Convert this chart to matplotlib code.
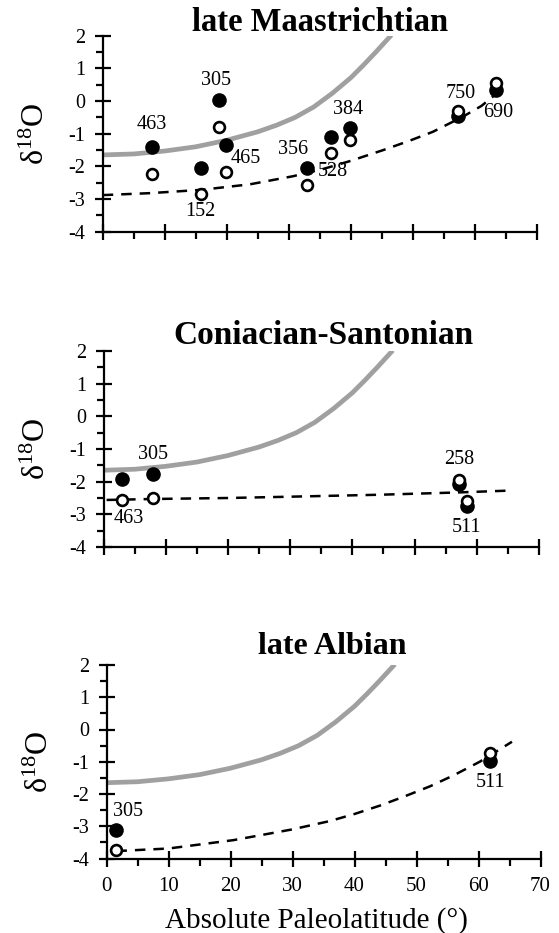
import matplotlib
matplotlib.use("Agg")
import matplotlib.pyplot as plt
from matplotlib.ticker import MultipleLocator

plt.rcParams['font.family'] = ['Liberation Serif', 'DejaVu Serif']
plt.rcParams['mathtext.fontset'] = 'custom'
plt.rcParams['mathtext.rm'] = 'Liberation Serif'
plt.rcParams['mathtext.it'] = 'Liberation Serif:italic'
plt.rcParams['axes.unicode_minus'] = False

# ---------------- data ----------------
titles = ["late Maastrichtian", "Coniacian-Santonian", "late Albian"]

# late Maastrichtian
maas_sites = ['463', '305', '465', '152', '356', '528', '384', '750', '690']
maas_lat = [7.9, 18.7, 19.9, 15.8, 32.9, 36.8, 39.8, 57.3, 63.4]
maas_filled = [-1.42, 0.03, -1.35, -2.04, -2.04, -1.09, -0.82, -0.46, 0.34]
maas_open = [-2.24, -0.79, -2.16, -2.85, -2.57, -1.60, -1.19, -0.30, 0.54]
maas_fit_lat = [0, 7.6, 15.8, 23.7, 30.7, 35.5, 39.8, 45.2, 49.5, 53.2, 58.0, 61.0, 63.4, 64.5]
maas_fit_d = [-2.88, -2.82, -2.72, -2.55, -2.30, -2.08, -1.84, -1.50, -1.21, -0.94, -0.48, -0.15, 0.22, 0.42]

# Coniacian-Santonian
coni_sites = ['463', '305', '258', '511']
coni_lat = [2.9, 8.0, 57.2, 58.4]
coni_filled = [-1.92, -1.76, -2.06, -2.73]
coni_open = [-2.55, -2.50, -1.94, -2.60]
coni_fit_lat = [0.5, 8, 20, 30, 44.4, 57, 65.7]
coni_fit_d = [-2.56, -2.53, -2.50, -2.46, -2.40, -2.33, -2.27]

# late Albian
albi_sites = ['305', '511']
albi_lat = [1.6, 61.9]
albi_filled = [-3.12, -0.97]
albi_open = [-3.75, -0.73]
albi_fit_lat = [1.6, 10, 20.5, 29.9, 36, 40, 44.1, 48, 52.2, 56, 60.2, 65.4]
albi_fit_d = [-3.77, -3.69, -3.43, -3.10, -2.84, -2.62, -2.36, -2.08, -1.76, -1.42, -1.00, -0.38]

# grey reference curve (same in all panels)
ref_lat = [0, 5, 10, 15, 20, 25, 28, 31, 34, 37, 40, 42, 44, 46.5]
ref_d = [-1.65, -1.62, -1.53, -1.40, -1.20, -0.94, -0.74, -0.50, -0.18, 0.24, 0.72, 1.10, 1.50, 2.02]

x_ticks = [0, 10, 20, 30, 40, 50, 60, 70]
y_ticks = [-4, -3, -2, -1, 0, 1, 2]

# ---------------- layout / style ----------------
W, H = 559, 933
fig = plt.figure(figsize=(W / 100, H / 100), dpi=100)

def px_rect(l, r, t, b):
    return [l / W, 1 - b / H, (r - l) / W, (b - t) / H]

rects = [px_rect(102.7, 537.3, 35.7, 231.7),
         px_rect(103.5, 539.0, 351.0, 547.0),
         px_rect(106.5, 540.5, 665.0, 858.5)]

# label offsets in pixels (dx right, dy up) relative to filled point
maas_off = [(0, 23), (-3, 20), (19, -13), (0, -44), (-14, 18), (2, -35), (-2, 18), (2, 23), (2, -23)]
coni_off = [(7, -39), (0, 19), (0, 24), (0, -22)]
albi_off = [(12, 19), (0, -22)]

panels = [
    (maas_sites, maas_lat, maas_filled, maas_open, maas_fit_lat, maas_fit_d, maas_off),
    (coni_sites, coni_lat, coni_filled, coni_open, coni_fit_lat, coni_fit_d, coni_off),
    (albi_sites, albi_lat, albi_filled, albi_open, albi_fit_lat, albi_fit_d, albi_off),
]

title_x = [0.5, 0.505, 0.52]
title_gap_px = [5, 7, 11]
title_size = [23.5, 24, 23]

for i, (rect, (sites, lat, dfill, dopen, flat, fd, offs)) in enumerate(zip(rects, panels)):
    ax = fig.add_axes(rect)
    ax.set_xlim(0, 70)
    ax.set_ylim(-4, 2)
    for s in ['top', 'right']:
        ax.spines[s].set_visible(False)
    for s in ['left', 'bottom']:
        ax.spines[s].set_linewidth(1.6)
    ax.set_xticks(x_ticks)
    ax.set_yticks(y_ticks)
    ax.xaxis.set_minor_locator(MultipleLocator(5))
    ax.yaxis.set_minor_locator(MultipleLocator(0.5))
    ax.tick_params(which='major', direction='inout', length=11, width=1.6)
    ax.tick_params(which='minor', direction='out', length=5, width=1.6)
    ax.tick_params(axis='y', which='major', labelsize=14.5, pad=7)
    ax.tick_params(axis='x', which='major', labelsize=15, pad=8)
    if i < 2:
        ax.tick_params(axis='x', labelbottom=False)
    else:
        ax.set_xlabel('Absolute Paleolatitude (°)', fontsize=21)
        ax.xaxis.set_label_coords(0.484, -0.25)

    ax.plot(ref_lat, ref_d, color='#a0a0a0', lw=3.4, solid_capstyle='butt', zorder=2)
    ln, = ax.plot(flat, fd, color='black', lw=1.8, zorder=2)
    ln.set_dashes((4.2, 3.2))

    ax.plot(lat, dfill, 'o', ms=9.5, mfc='black', mec='black', mew=1.0, zorder=3, clip_on=False)
    ax.plot(lat, dopen, 'o', ms=7.8, mfc='white', mec='black', mew=1.9, zorder=4, clip_on=False)

    for s, x, y, (dx, dy) in zip(sites, lat, dfill, offs):
        ax.annotate(s, (x, y), xytext=(dx * 0.72, dy * 0.72), textcoords='offset points',
                    ha='center', va='center', fontsize=14.5, zorder=5)

    ax.set_ylabel(r'$\mathregular{\delta^{18}O}$', fontsize=23)
    ax.yaxis.set_label_coords(-0.118, 0.5)
    ax.text(title_x[i], 1 + title_gap_px[i] / (rect[3] * H), titles[i], transform=ax.transAxes,
            ha='center', va='baseline', fontsize=title_size[i], fontweight='bold')

fig.savefig('out.png', dpi=100)
